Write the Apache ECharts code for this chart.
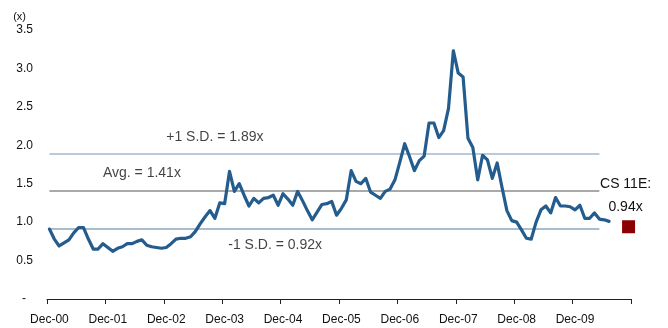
<!DOCTYPE html>
<html>
<head>
<meta charset="utf-8">
<script src="https://cdn.jsdelivr.net/npm/echarts@6/dist/echarts.min.js"></script>
<style>
  html, body { margin: 0; padding: 0; background: #fff; }
  #chart { width: 668px; height: 328px; }
</style>
</head>
<body>
<div id="chart"></div>
<script>
// Monthly axis: Dec-00 .. Nov-10 (labels shown each December)
var monthNames = ['Dec', 'Jan', 'Feb', 'Mar', 'Apr', 'May', 'Jun', 'Jul', 'Aug', 'Sep', 'Oct', 'Nov'];
var firstYear = 0;        // Dec-00
var monthCount = 120;
var categories = [];
for (var i = 0; i < monthCount; i++) {
  var m = i % 12;
  var yr = firstYear + Math.floor(i / 12) + (m === 0 ? 0 : 1);
  categories.push(monthNames[m] + '-' + (yr < 10 ? '0' + yr : String(yr)));
}

// Forward P/E multiple (x), monthly from Dec-00
var peMultiple = [
  0.91, 0.78, 0.69, 0.73, 0.77, 0.86, 0.93, 0.93, 0.78, 0.65, 0.65, 0.72,
  0.67, 0.62, 0.66, 0.68, 0.72, 0.72, 0.75, 0.77, 0.70, 0.68, 0.67, 0.66,
  0.67, 0.72, 0.78, 0.79, 0.79, 0.81, 0.88, 0.98, 1.07, 1.15, 1.05, 1.25,
  1.24, 1.66, 1.40, 1.50, 1.35, 1.21, 1.31, 1.25, 1.31, 1.32, 1.35, 1.22,
  1.37, 1.30, 1.22, 1.40, 1.28, 1.15, 1.03, 1.13, 1.23, 1.24, 1.27, 1.09,
  1.18, 1.29, 1.67, 1.53, 1.50, 1.57, 1.39, 1.35, 1.31, 1.40, 1.43, 1.55,
  1.78, 2.02, 1.85, 1.67, 1.80, 1.86, 2.29, 2.29, 2.10, 2.19, 2.48, 3.23,
  2.94, 2.89, 2.09, 1.97, 1.55, 1.87, 1.81, 1.57, 1.77, 1.45, 1.15, 1.02,
  1.00, 0.90, 0.79, 0.78, 1.00, 1.16, 1.21, 1.12, 1.32, 1.21, 1.21, 1.20,
  1.16, 1.22, 1.05, 1.05, 1.12, 1.04, 1.03, 1.01
];

// Statistics and estimate
var avgValue = 1.41;
var plusSD = 1.89;
var minusSD = 0.92;
var estimateLabel = 'CS 11E:';
var estimateValue = 0.94;
var bandEndIndex = 113;

var yTicks = [0, 0.5, 1.0, 1.5, 2.0, 2.5, 3.0, 3.5];

var estimateData = categories.map(function (c, i) {
  return i === categories.length - 1 ? estimateValue : null;
});

var FONT = '"Liberation Sans", Arial, sans-serif';
var INK = '#111111';

function hLine(v, color) {
  return [
    { coord: [categories[0], v], lineStyle: { color: color, width: 1.5, type: 'solid' } },
    { coord: [categories[bandEndIndex], v] }
  ];
}

// Text notes anchored to the statistic lines
var notes = [
  { text: '+1 S.D. = ' + plusSD.toFixed(2) + 'x', idx: 34, v: plusSD, dx: 0, dy: -17 },
  { text: 'Avg. = ' + avgValue.toFixed(2) + 'x', idx: 19, v: avgValue, dx: 0, dy: -17 },
  { text: '-1 S.D. = ' + minusSD.toFixed(2) + 'x', idx: 47, v: minusSD, dx: -3, dy: 17 }
];

var chart = echarts.init(document.getElementById('chart'), null, { renderer: 'canvas' });
chart.setOption({
  animation: false,
  backgroundColor: '#ffffff',
  grid: { left: 47, right: 37, top: 30, bottom: 29, containLabel: false },
  xAxis: [
    {
      type: 'category',
      data: categories,
      boundaryGap: true,
      axisLine: { show: true, lineStyle: { color: '#222', width: 1 } },
      axisTick: { show: true, interval: 11, length: 5, inside: false, lineStyle: { color: '#222' } },
      axisLabel: {
        interval: 11, margin: 15, color: INK, fontSize: 12, fontFamily: FONT
      },
      splitLine: { show: false }
    },
    {
      // closing tick at the right end of the time axis
      type: 'value',
      position: 'bottom',
      min: 0, max: monthCount, interval: monthCount,
      axisLine: { show: false },
      axisTick: { show: true, length: 5, lineStyle: { color: '#222' } },
      axisLabel: { show: false },
      splitLine: { show: false }
    }
  ],
  yAxis: {
    type: 'value',
    min: yTicks[0], max: yTicks[yTicks.length - 1], interval: 0.5,
    name: '(x)',
    nameLocation: 'end',
    nameGap: 8,
    nameTextStyle: { color: INK, fontSize: 11, fontFamily: FONT, align: 'right', padding: [0, 21, 0, 0] },
    axisLine: { show: false },
    axisTick: { show: false },
    splitLine: { show: false },
    axisLabel: {
      margin: 14, color: INK, fontSize: 12, fontFamily: FONT,
      formatter: function (v) { return v === 0 ? '{z|-}' : v.toFixed(1); },
      rich: { z: { padding: [0, 7, 0, 0], fontSize: 12, fontFamily: FONT, color: INK } }
    }
  },
  series: [
    {
      name: 'P/E',
      type: 'line',
      data: peMultiple,
      symbol: 'none',
      smooth: false,
      z: 5,
      lineStyle: { color: '#245c8d', width: 3.2, join: 'round', cap: 'round' },
      markLine: {
        silent: true,
        symbol: ['none', 'none'],
        label: { show: false },
        z: 2,
        data: [
          hLine(plusSD, '#a3b8cc'),
          hLine(avgValue, '#8c8c8c'),
          hLine(minusSD, '#8ea7bf')
        ]
      }
    },
    {
      name: 'Notes',
      type: 'scatter',
      silent: true,
      symbol: 'circle',
      symbolSize: 1,
      itemStyle: { color: 'rgba(0,0,0,0)' },
      z: 7,
      data: notes.map(function (n) {
        return {
          value: [categories[n.idx], n.v],
          label: {
            show: true, position: 'inside', offset: [n.dx, n.dy],
            formatter: n.text, color: INK, fontSize: 14, fontFamily: FONT
          }
        };
      })
    },
    {
      name: 'Estimate',
      type: 'line',
      data: estimateData,
      showAllSymbol: true,
      symbol: 'rect',
      symbolSize: 13,
      lineStyle: { width: 0 },
      itemStyle: { color: '#8b0000' },
      z: 6,
      label: {
        show: true,
        position: 'top',
        distance: 2,
        offset: [-3, 0],
        formatter: function (p) {
          return p.value == null ? '' : '{a|' + estimateLabel + '}\n{a|' + p.value.toFixed(2) + 'x}';
        },
        rich: { a: { fontSize: 14, lineHeight: 23, color: INK, fontFamily: FONT, align: 'center' } }
      }
    }
  ]
});
</script>
</body>
</html>
